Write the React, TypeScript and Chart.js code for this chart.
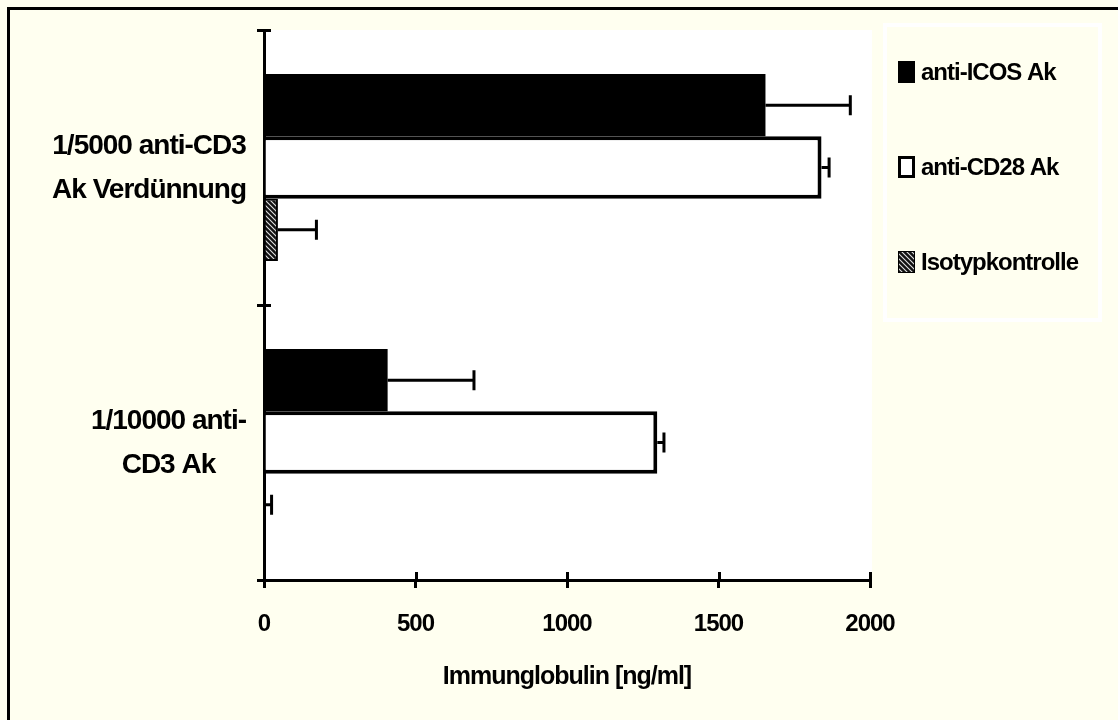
import React, { useEffect, useRef } from 'react';
import { Chart, registerables } from 'chart.js';

Chart.register(...registerables);

// ---- data ----
const categories = [
  ['1/5000 anti-CD3', 'Ak Verdünnung'],
  ['1/10000 anti-', 'CD3 Ak'],
];
const seriesNames = ['anti-ICOS Ak', 'anti-CD28 Ak', 'Isotypkontrolle'];
const icosValues = [1655, 408];
const icosErrors = [280, 285];
const cd28Values = [1840, 1298];
const cd28Errors = [25, 22];
const isoValues = [46, 5];
const isoErrors = [127, 20];
const xTicks = [0, 500, 1000, 1500, 2000];
const xTitle = 'Immunglobulin [ng/ml]';

const BG = '#FFFFF0';
const FONT = "'Liberation Sans', Arial, Helvetica, sans-serif";

function makeHatch(): any {
  const c = document.createElement('canvas');
  c.width = 5;
  c.height = 5;
  const g = c.getContext('2d')!;
  g.fillStyle = '#111';
  g.fillRect(0, 0, 5, 5);
  g.strokeStyle = '#e0e0e0';
  g.lineWidth = 1.1;
  g.beginPath();
  g.moveTo(-1, -1);
  g.lineTo(6, 6);
  g.moveTo(-1, 4);
  g.lineTo(1, 6);
  g.moveTo(4, -1);
  g.lineTo(6, 1);
  g.stroke();
  return g.createPattern(c, 'repeat');
}

const spacingPlugin = {
  id: 'spacing',
  beforeUpdate(chart: any) {
    chart.ctx.letterSpacing = '-1px';
  },
  beforeDraw(chart: any) {
    chart.ctx.letterSpacing = '-1px';
  },
};

const backgroundPlugin = {
  id: 'bgPlugin',
  beforeDraw(chart: any) {
    const { ctx, chartArea: a, width, height } = chart;
    ctx.save();
    ctx.fillStyle = BG;
    ctx.fillRect(0, 0, width, height);
    ctx.fillStyle = '#ffffff';
    ctx.fillRect(a.left, a.top, a.right - a.left + 2, a.bottom - a.top);
    ctx.fillStyle = '#000';
    ctx.fillRect(7, 7, width - 7, 3);
    ctx.fillRect(7, 7, 3, height - 7);
    ctx.restore();
  },
};

const errorBarPlugin = {
  id: 'errorBars',
  afterDatasetsDraw(chart: any) {
    const ctx = chart.ctx;
    const xs = chart.scales.x;
    ctx.save();
    ctx.strokeStyle = '#000';
    ctx.lineWidth = 3;
    ctx.lineCap = 'butt';
    chart.data.datasets.forEach((ds: any, di: number) => {
      const meta = chart.getDatasetMeta(di);
      meta.data.forEach((bar: any, i: number) => {
        const v = ds.data[i];
        const e = ds.errors[i];
        const x0 = xs.getPixelForValue(v);
        const x1 = xs.getPixelForValue(v + e);
        const y = bar.y;
        ctx.beginPath();
        ctx.moveTo(x0, y);
        ctx.lineTo(x1, y);
        ctx.moveTo(x1, y - 10);
        ctx.lineTo(x1, y + 10);
        ctx.stroke();
      });
    });
    ctx.restore();
  },
};

const innerTickPlugin = {
  id: 'innerTicks',
  afterDraw(chart: any) {
    const { ctx } = chart;
    const xs = chart.scales.x;
    const ys = chart.scales.y;
    const a = chart.chartArea;
    ctx.save();
    ctx.strokeStyle = '#000';
    ctx.lineWidth = 3;
    ctx.beginPath();
    xs.ticks.forEach((t: any) => {
      const px = Math.round(xs.getPixelForValue(t.value)) + 0.5;
      ctx.moveTo(px, a.bottom - 8);
      ctx.lineTo(px, a.bottom);
    });
    for (let i = 0; i <= categories.length; i++) {
      const py = Math.round(ys.getPixelForValue(i - 0.5)) + 0.5;
      ctx.moveTo(a.left, py);
      ctx.lineTo(a.left + 7, py);
    }
    ctx.stroke();
    ctx.restore();
  },
};

// category labels: each block right-aligned near the axis, lines centred within the block
const yLabelPlugin = {
  id: 'yLabels',
  afterDraw(chart: any) {
    const { ctx } = chart;
    const ys = chart.scales.y;
    const labels: string[][] = chart.data.labels;
    ctx.save();
    ctx.letterSpacing = '-1px';
    ctx.font = `bold 28px ${FONT}`;
    ctx.fillStyle = '#000';
    ctx.textAlign = 'center';
    ctx.textBaseline = 'middle';
    const lineH = 44;
    const right = 246;
    labels.forEach((lines, i) => {
      const cy = ys.getPixelForValue(i) + 1;
      const w = Math.max(...lines.map((l) => ctx.measureText(l).width));
      const cx = right - w / 2;
      lines.forEach((l, j) => {
        ctx.fillText(l, cx, cy + (j - (lines.length - 1) / 2) * lineH);
      });
    });
    ctx.restore();
  },
};

const legendPlugin = {
  id: 'customLegend',
  afterDraw(chart: any) {
    const { ctx } = chart;
    const box = { left: 885, top: 25, right: 1100, bottom: 320 };
    ctx.save();
    ctx.fillStyle = BG;
    ctx.fillRect(box.left, box.top, box.right - box.left, box.bottom - box.top);
    ctx.strokeStyle = '#ffffff';
    ctx.lineWidth = 4;
    ctx.strokeRect(box.left, box.top, box.right - box.left, box.bottom - box.top);
    const firstY = 72;
    const step = 95;
    ctx.font = `bold 24px ${FONT}`;
    ctx.textBaseline = 'middle';
    ctx.textAlign = 'left';
    chart.data.datasets.forEach((ds: any, i: number) => {
      const cy = firstY + i * step;
      const sx = 898;
      const sw = 17;
      const sh = 22;
      const sy = cy - sh / 2;
      ctx.fillStyle = ds.backgroundColor;
      ctx.fillRect(sx, sy, sw, sh);
      if (ds.legendBorder) {
        ctx.strokeStyle = '#000';
        ctx.lineWidth = ds.legendBorder;
        ctx.strokeRect(sx + ds.legendBorder / 2, sy + ds.legendBorder / 2, sw - ds.legendBorder, sh - ds.legendBorder);
      }
      ctx.fillStyle = '#000';
      ctx.fillText(ds.label, 921, cy + 1);
    });
    ctx.restore();
  },
};

export default function App() {
  const ref = useRef<HTMLCanvasElement>(null);

  useEffect(() => {
    document.body.style.margin = '0';
    const canvas = ref.current!;
    const hatch = makeHatch();
    const chart = new Chart(canvas, {
      type: 'bar',
      data: {
        labels: categories as any,
        datasets: [
          {
            label: seriesNames[0],
            data: icosValues,
            errors: icosErrors,
            backgroundColor: '#000000',
            borderColor: '#000000',
            borderWidth: 0,
            legendBorder: 0,
          } as any,
          {
            label: seriesNames[1],
            data: cd28Values,
            errors: cd28Errors,
            backgroundColor: '#ffffff',
            borderColor: '#000000',
            borderWidth: 4,
            legendBorder: 3,
          } as any,
          {
            label: seriesNames[2],
            data: isoValues,
            errors: isoErrors,
            backgroundColor: hatch,
            borderColor: '#000000',
            borderWidth: 2,
            legendBorder: 1,
          } as any,
        ],
      },
      options: {
        indexAxis: 'y',
        responsive: false,
        animation: false,
        events: [],
        datasets: {
          bar: { categoryPercentage: 0.68, barPercentage: 1.0 },
        } as any,
        layout: { padding: { left: 0, top: 30, right: 248, bottom: 0 } },
        plugins: {
          legend: { display: false },
          tooltip: { enabled: false },
        },
        scales: {
          x: {
            type: 'linear',
            min: 0,
            max: 2000,
            afterBuildTicks: (s: any) => {
              s.ticks = xTicks.map((v) => ({ value: v }));
            },
            afterFit: (s: any) => {
              s.height = 140;
            },
            grid: {
              display: true,
              drawOnChartArea: false,
              drawTicks: true,
              tickLength: 8,
              color: '#000',
              lineWidth: 3,
            },
            border: { display: true, color: '#000', width: 3 },
            ticks: {
              color: '#000',
              font: { family: FONT, size: 24, weight: 'bold' },
              padding: 22,
              maxRotation: 0,
              autoSkip: false,
              callback: (v: any) => String(v),
            },
            title: {
              display: true,
              text: xTitle,
              color: '#000',
              font: { family: FONT, size: 25, weight: 'bold' },
              padding: { top: 0, bottom: 28 },
            },
          },
          y: {
            type: 'category',
            afterFit: (s: any) => {
              s.width = 264;
              s.paddingTop = 0;
              s.paddingBottom = 0;
            },
            grid: {
              display: true,
              offset: true,
              drawOnChartArea: false,
              tickLength: 7,
              color: '#000',
              lineWidth: 3,
            },
            border: { display: true, color: '#000', width: 3 },
            ticks: {
              display: false,
              autoSkip: false,
            },
          },
        } as any,
      } as any,
      plugins: [spacingPlugin, backgroundPlugin, errorBarPlugin, innerTickPlugin, yLabelPlugin, legendPlugin],
    });
    return () => chart.destroy();
  }, []);

  return (
    <div style={{ position: 'relative', width: 1118, height: 720 }}>
      <canvas ref={ref} width={1118} height={720} style={{ display: 'block', width: 1118, height: 720 }} />
    </div>
  );
}
